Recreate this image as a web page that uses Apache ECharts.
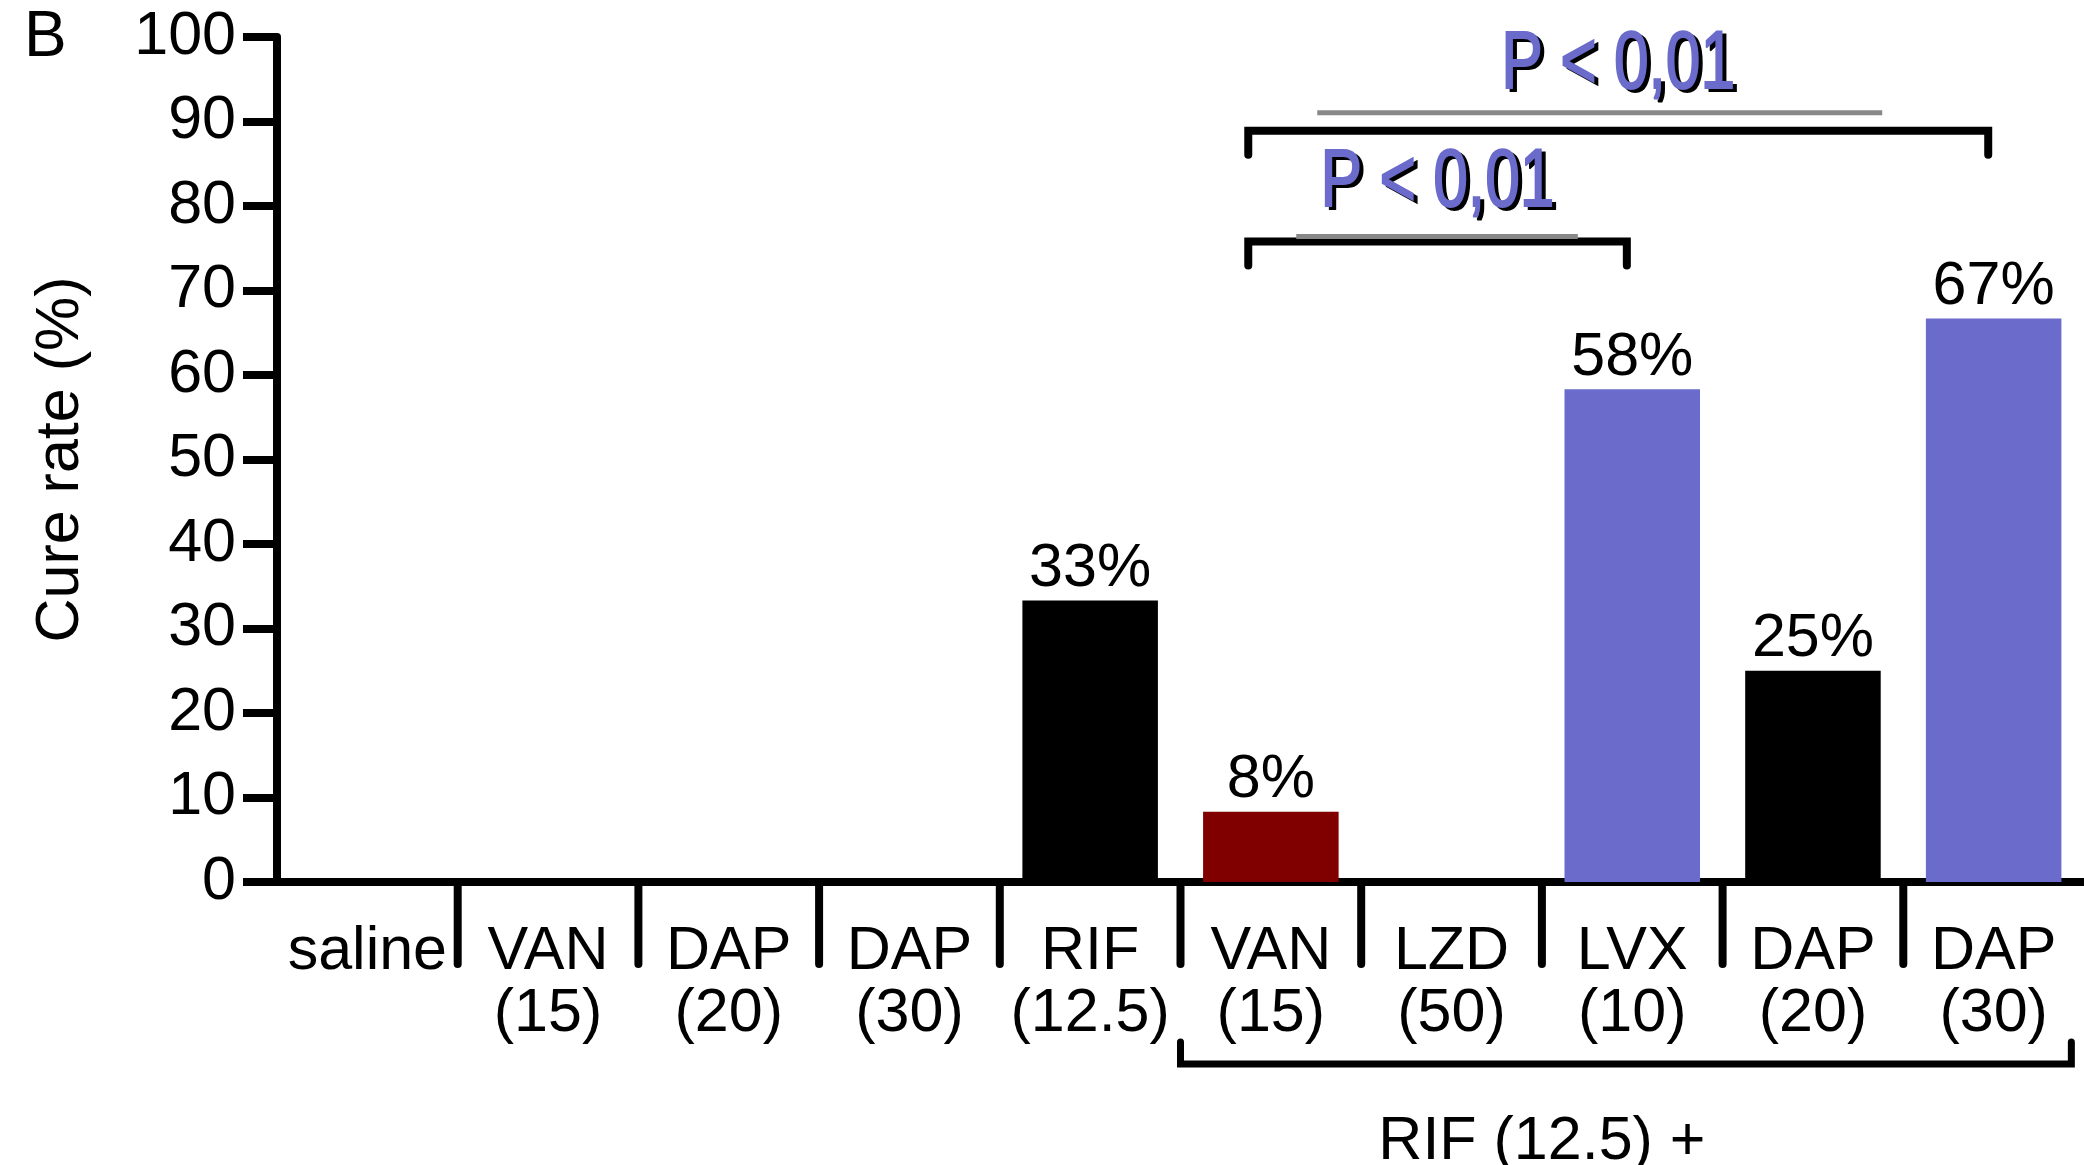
<!DOCTYPE html>
<html><head><meta charset="utf-8">
<script src="https://cdn.jsdelivr.net/npm/echarts@6/dist/echarts.min.js"></script>
<style>html,body{margin:0;padding:0;background:#fff}#c{width:2084px;height:1165px}</style>
</head><body><div id="c"></div>
<script>
// ---------- data ----------
const categories = ['saline','VAN15','DAP20','DAP30','RIF12.5','RIF+VAN15','RIF+LZD50','RIF+LVX10','RIF+DAP20','RIF+DAP30'];
const tickLabels = ['saline','VAN\n(15)','DAP\n(20)','DAP\n(30)','RIF\n(12.5)','VAN\n(15)','LZD\n(50)','LVX\n(10)','DAP\n(20)','DAP\n(30)'];
const cureRate = [0, 0, 0, 0, 33.3, 8.3, 0, 58.3, 25, 66.7];
const yMin = 0, yMax = 100, yStep = 10;
const compFrom = [5, 5];
const compTo = [7, 9];
const compLevel = [75.8, 88.9];
const compLabels = ['P < 0,01', 'P < 0,01'];
const groupFrom = [5];
const groupTo = [9];
const groupLabels = ['RIF (12.5) +'];
const panelLabel = 'B';
const yAxisName = 'Cure rate (%)';

// ---------- styles ----------
const FONT = 'Liberation Sans, Arial, Helvetica, sans-serif';
const FS = 61;
const BLUE = '#6b6bcc';
const barColors = ['#000','#000','#000','#000','#000','#800000','#000',BLUE,'#000',BLUE];
const greyInset = [[48, 49], [69, 106]];
const textLift = [58, 65];

const chart = echarts.init(document.getElementById('c'), null, {renderer: 'canvas'});

const option = {
  animation: false,
  backgroundColor: '#fff',
  grid: {left: 277, right: 0, top: 37, bottom: 283, containLabel: false, outerBoundsMode: 'none'},
  graphic: [{
    type: 'text', x: 24, y: 38,
    style: {text: panelLabel, fontSize: 64, fontFamily: FONT, fill: '#000', align: 'left', verticalAlign: 'middle'}
  }],
  xAxis: {
    type: 'category',
    data: categories,
    axisLine: {lineStyle: {color: '#000', width: 8}},
    axisTick: {show: false},
    axisLabel: {
      interval: 0, margin: 39, color: '#000', fontSize: FS, fontFamily: FONT, lineHeight: 62,
      formatter: (v, i) => tickLabels[i]
    },
    splitLine: {show: false}
  },
  yAxis: {
    type: 'value', min: yMin, max: yMax, interval: yStep,
    name: yAxisName, nameLocation: 'middle', nameGap: 185,
    nameTextStyle: {fontSize: FS, fontFamily: FONT, color: '#000'},
    axisLine: {show: true, lineStyle: {color: '#000', width: 8}},
    axisTick: {show: true, length: 34, lineStyle: {color: '#000', width: 8}},
    axisLabel: {margin: 41, color: '#000', fontSize: FS, fontFamily: FONT},
    splitLine: {show: false}
  },
  series: [
    {
      type: 'bar',
      barWidth: '75%',
      data: cureRate.map((v, i) => ({value: v, itemStyle: {color: barColors[i]}})),
      label: {
        show: true, position: 'top', distance: 1, color: '#000', fontSize: FS, fontFamily: FONT,
        formatter: p => p.value > 0 ? Math.round(p.value) + '%' : ''
      },
      silent: true
    },
    {
      // category dividers below the axis
      type: 'custom', clip: false, silent: true,
      data: categories.slice(1).map((c, i) => [i + 1, 0]),
      renderItem: (params, api) => {
        const idx = params.dataIndex + 1;
        const p = api.coord([idx, 0]);
        const bw = api.size([1, 0])[0];
        const x = p[0] - bw / 2;
        return {type: 'line', shape: {x1: x, y1: p[1], x2: x, y2: p[1] + 82},
          style: {stroke: '#000', lineWidth: 8, lineCap: 'round'}};
      }
    },
    {
      // comparison brackets
      type: 'custom', clip: false, silent: true,
      data: compLabels.map((l, i) => [compFrom[i], compLevel[i]]),
      renderItem: (params, api) => {
        const i = params.dataIndex;
        const bw = api.size([1, 0])[0];
        const x1 = api.coord([compFrom[i], 0])[0] - 0.125 * bw;
        const x2 = api.coord([compTo[i], 0])[0] - 0.03 * bw;
        const y = api.coord([0, compLevel[i]])[1];
        const yEnd = y + 24;
        const xm = (x1 + x2) / 2;
        const ty = y - textLift[i];
        const greyY = i === 0 ? y - 5 : y - 18;
        const txt = (fill, dx, dy) => ({type: 'text', x: xm + dx, y: ty + dy, scaleX: 0.76,
          style: {text: compLabels[i], fontSize: 82, fontFamily: FONT, fill: fill, stroke: fill, lineWidth: 2,
            align: 'center', verticalAlign: 'middle'}});
        return {type: 'group', children: [
          {type: 'polyline', shape: {points: [[x1, yEnd], [x1, y], [x2, y], [x2, yEnd]]},
            style: {stroke: '#000', lineWidth: 8, fill: null, lineJoin: 'miter', lineCap: 'round'}},
          {type: 'line', shape: {x1: x1 + greyInset[i][0], y1: greyY, x2: x2 - greyInset[i][1], y2: greyY},
            style: {stroke: '#888', lineWidth: 5}},
          txt('#000', 4, 3),
          txt(BLUE, 0, 0)
        ]};
      }
    },
    {
      // group bracket under the axis
      type: 'custom', clip: false, silent: true,
      data: groupLabels.map((l, i) => [groupFrom[i], 0]),
      renderItem: (params, api) => {
        const i = params.dataIndex;
        const bw = api.size([1, 0])[0];
        const base = api.coord([groupFrom[i], 0]);
        const x1 = base[0] - bw / 2;
        const x2 = api.coord([groupTo[i], 0])[0] + 0.43 * bw;
        const y = base[1] + 182;
        const xt = api.coord([(groupFrom[i] + groupTo[i]) / 2, 0])[0] - bw / 2;
        return {type: 'group', children: [
          {type: 'polyline', shape: {points: [[x1, y - 22], [x1, y], [x2, y], [x2, y - 22]]},
            style: {stroke: '#000', lineWidth: 7, fill: null, lineCap: 'round'}},
          {type: 'text', x: xt, y: base[1] + 260,
            style: {text: groupLabels[i], fontSize: FS, fontFamily: FONT, fill: '#000', align: 'center', verticalAlign: 'middle'}}
        ]};
      }
    }
  ]
};
chart.setOption(option);
</script>
</body></html>
